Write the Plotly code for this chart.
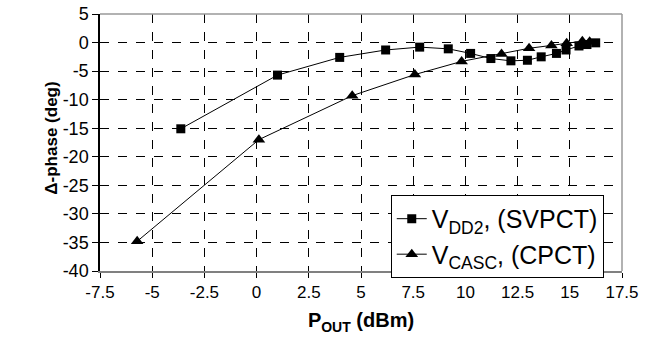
import plotly.graph_objects as go

vdd2_x = [-3.63, 1.0, 3.98, 6.18, 7.81, 9.18, 10.25, 11.22, 12.18, 12.97, 13.63, 14.36, 14.82, 15.44, 15.82, 16.24]
vdd2_y = [-15.1, -5.7, -2.6, -1.3, -0.8, -1.1, -1.9, -2.8, -3.2, -3.1, -2.5, -1.9, -1.3, -0.6, -0.35, -0.05]

casc_x = [-5.72, 0.11, 4.58, 7.58, 9.82, 11.73, 13.05, 14.12, 14.85, 15.6, 15.95]
casc_y = [-34.8, -17.0, -9.3, -5.6, -3.3, -2.0, -1.0, -0.5, -0.1, 0.25, 0.15]

x_ticks = [-7.5, -5, -2.5, 0, 2.5, 5, 7.5, 10, 12.5, 15, 17.5]
y_ticks = [5, 0, -5, -10, -15, -20, -25, -30, -35, -40]

FONT = "Liberation Sans, Arial, sans-serif"

fig = go.Figure()
fig.add_trace(go.Scatter(
    x=vdd2_x, y=vdd2_y, mode="lines+markers",
    name="V<sub>DD2</sub>, (SVPCT)",
    line=dict(color="black", width=1),
    marker=dict(symbol="square", size=9, color="black"),
))
fig.add_trace(go.Scatter(
    x=casc_x, y=casc_y, mode="lines+markers",
    name="V<sub>CASC</sub>, (CPCT)",
    line=dict(color="black", width=1),
    marker=dict(symbol="triangle-up", size=11, color="black"),
))

fig.update_layout(
    template="none",
    width=661, height=347,
    margin=dict(l=100, r=39, t=14, b=76, pad=0),
    paper_bgcolor="white", plot_bgcolor="white",
    font=dict(family=FONT, color="black", size=17),
    showlegend=True,
    legend=dict(
        x=0.557, y=0.296, xanchor="left", yanchor="top",
        bgcolor="white", bordercolor="black", borderwidth=1,
        font=dict(size=25, family=FONT, color="black"),
        tracegroupgap=0, itemwidth=30,
    ),
    xaxis=dict(
        range=[-7.5, 17.5], tickvals=x_ticks,
        ticktext=[("%g" % v) for v in x_ticks],
        automargin=False,
        showgrid=True, gridcolor="black", griddash="dash", gridwidth=1,
        showline=True, linecolor="#808080", linewidth=2,
        mirror=False, zeroline=False,
        ticks="outside", ticklen=5, tickcolor="black", tickwidth=1,
        tickfont=dict(size=17),
        title=dict(text="<b>P<sub>OUT</sub> (dBm)</b>", font=dict(size=20), standoff=12),
    ),
    yaxis=dict(
        range=[-40, 5], tickvals=y_ticks,
        ticktext=[("%g" % v) for v in y_ticks],
        automargin=False,
        showgrid=True, gridcolor="black", griddash="dash", gridwidth=1,
        showline=True, linecolor="black", linewidth=1.5,
        zeroline=False,
        ticks="outside", ticklen=6, tickcolor="black", tickwidth=1,
        tickfont=dict(size=18),
    ),
    annotations=[
        dict(text="<b>Δ-phase (deg)</b>", xref="paper", yref="paper",
             x=0, y=0.515, xshift=-48, xanchor="center", yanchor="middle",
             textangle=-90, showarrow=False, font=dict(size=17)),
    ],
    shapes=[
        dict(type="line", xref="paper", yref="paper", x0=0, x1=1, y0=1, y1=1,
             line=dict(color="#999999", width=1.5)),
        dict(type="line", xref="paper", yref="paper", x0=1, x1=1, y0=0, y1=1,
             line=dict(color="#999999", width=1.5)),
    ],
)

fig.write_html("out.html", config={"displayModeBar": False},
               post_script="document.body.style.margin='0';")
